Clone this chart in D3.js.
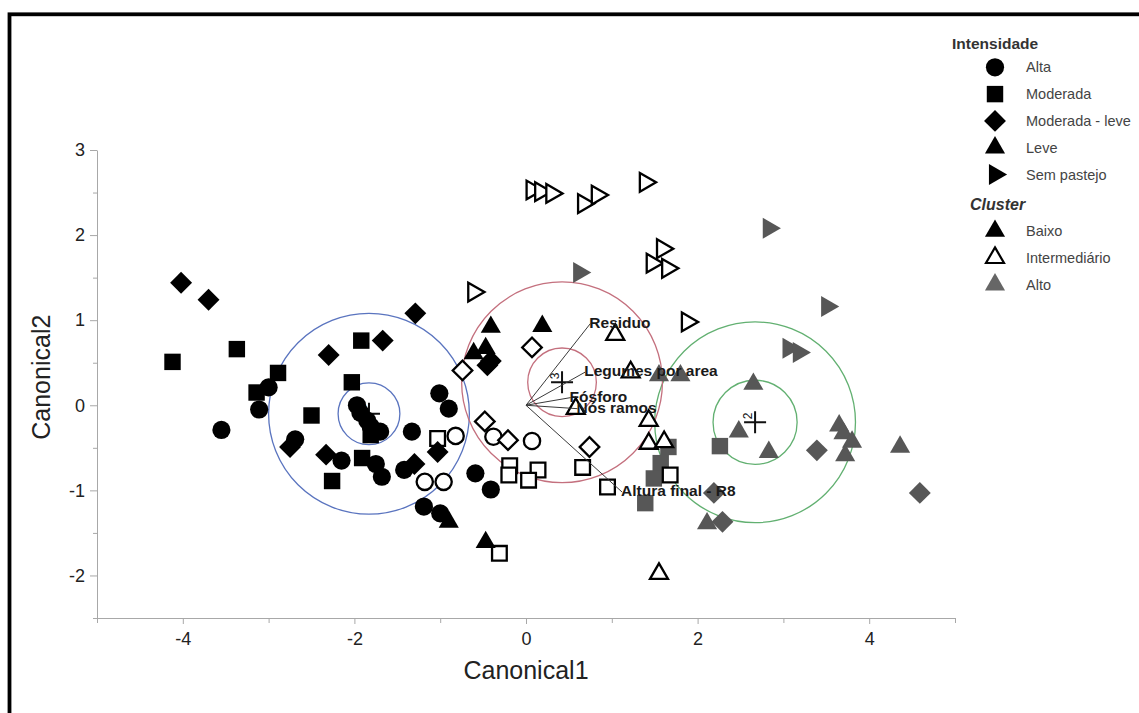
<!DOCTYPE html>
<html>
<head>
<meta charset="utf-8">
<script src="https://cdn.jsdelivr.net/npm/d3@7"></script>
<style>
  body { margin: 0; background: #fff; }
  svg { display: block; font-family: "Liberation Sans", Arial, sans-serif; }
</style>
</head>
<body>
<div id="chart"></div>
<script>
// Intensidade codes: A = Alta, M = Moderada, ML = Moderada - leve, L = Leve, S = Sem pastejo
const baixo = [
  [-3.55,-0.29,"A"],[-3.11,-0.05,"A"],[-3.00,0.21,"A"],[-2.69,-0.40,"A"],[-1.97,0.00,"A"],
  [-1.93,-0.09,"A"],[-1.85,-0.18,"A"],[-1.81,-0.25,"A"],[-1.70,-0.31,"A"],[-2.15,-0.65,"A"],
  [-1.75,-0.69,"A"],[-1.68,-0.84,"A"],[-1.42,-0.76,"A"],[-1.33,-0.31,"A"],[-1.01,0.14,"A"],
  [-0.90,-0.04,"A"],[-1.19,-1.19,"A"],[-1.00,-1.27,"A"],[-0.59,-0.80,"A"],[-0.41,-0.99,"A"],
  [-4.12,0.51,"M"],[-3.37,0.66,"M"],[-2.89,0.38,"M"],[-3.14,0.15,"M"],[-2.50,-0.12,"M"],
  [-1.92,0.76,"M"],[-2.03,0.27,"M"],[-1.81,-0.35,"M"],[-1.91,-0.62,"M"],[-2.26,-0.89,"M"],
  [-4.02,1.44,"ML"],[-3.70,1.24,"ML"],[-1.29,1.08,"ML"],[-1.67,0.76,"ML"],[-2.30,0.59,"ML"],
  [-2.75,-0.49,"ML"],[-2.33,-0.58,"ML"],[-1.03,-0.55,"ML"],[-1.30,-0.69,"ML"],[-0.45,0.47,"ML"],
  [-0.41,0.52,"ML"],
  [-0.41,0.92,"L"],[0.19,0.93,"L"],[-0.61,0.61,"L"],[-0.47,0.67,"L"],[-0.90,-1.37,"L"],[-0.47,-1.61,"L"]
];

const intermediario = [
  [-0.82,-0.36,"A"],[-1.18,-0.90,"A"],[-0.96,-0.90,"A"],[-0.38,-0.37,"A"],[0.07,-0.42,"A"],
  [-1.03,-0.39,"M"],[-0.19,-0.71,"M"],[-0.20,-0.82,"M"],[0.14,-0.76,"M"],[0.03,-0.88,"M"],
  [0.66,-0.73,"M"],[0.95,-0.96,"M"],[-0.31,-1.74,"M"],[1.68,-0.82,"M"],
  [-0.74,0.41,"ML"],[0.07,0.68,"ML"],[-0.48,-0.19,"ML"],[-0.21,-0.41,"ML"],[0.74,-0.49,"ML"],
  [1.04,0.83,"L"],[1.22,0.39,"L"],[0.58,-0.04,"L"],[1.43,-0.18,"L"],[1.43,-0.45,"L"],
  [1.61,-0.43,"L"],[1.55,-1.98,"L"],
  [-0.61,1.33,"S"],[0.07,2.53,"S"],[0.17,2.51,"S"],[0.30,2.49,"S"],[0.67,2.37,"S"],
  [0.83,2.47,"S"],[1.39,2.62,"S"],[1.59,1.84,"S"],[1.47,1.67,"S"],[1.65,1.61,"S"],[1.88,0.98,"S"]
];

const alto = [
  [1.66,-0.49,"M"],[1.57,-0.68,"M"],[1.49,-0.86,"M"],[1.39,-1.15,"M"],[2.26,-0.48,"M"],
  [3.39,-0.53,"ML"],[4.59,-1.03,"ML"],[2.19,-1.03,"ML"],[2.29,-1.37,"ML"],
  [1.55,0.35,"L"],[1.80,0.35,"L"],[2.65,0.25,"L"],[2.48,-0.31,"L"],[2.83,-0.55,"L"],
  [3.65,-0.24,"L"],[3.70,-0.33,"L"],[3.80,-0.43,"L"],[3.72,-0.59,"L"],[4.36,-0.49,"L"],
  [2.11,-1.39,"L"],
  [2.83,2.08,"S"],[0.62,1.56,"S"],[3.51,1.16,"S"],[3.06,0.67,"S"],[3.18,0.62,"S"]
];

// cluster means and their circles (data units)
const clusterIds = ["1", "2", "3"];
const clusterX = [-1.83, 2.67, 0.42];
const clusterY = [-0.10, -0.20, 0.27];
const innerR = [0.36, 0.49, 0.40];
const outerR = [1.17, 1.17, 1.17];

// biplot rays
const rayLabels = ["Residuo", "Legumes por area", "Fósforo", "Nós ramos", "Altura final - R8"];
const rayX = [0.75, 0.69, 0.52, 0.60, 1.12];
const rayY = [0.96, 0.39, 0.09, -0.04, -1.02];

const xTicks = [-4, -2, 0, 2, 4];
const xMinor = [-5, -3, -1, 1, 3, 5];
const yTicks = [-2, -1, 0, 1, 2, 3];
const yMinor = [-2.5, -1.5, -0.5, 0.5, 1.5, 2.5];

const intensidadeKeys = ["A", "M", "ML", "L", "S"];
const intensidadeLabels = ["Alta", "Moderada", "Moderada - leve", "Leve", "Sem pastejo"];
const clusterLabels = ["Baixo", "Intermediário", "Alto"];

const W = 1139, H = 713;
const circleColors = ["#5a74bf", "#62b071", "#c4707e"];
const grayFill = "#575757";
const axisColor = "#a8a8a8";

const svg = d3.select("#chart").append("svg")
    .attr("width", W)
    .attr("height", H);

// outer frame (only the top and left edges fall inside the picture)
svg.append("rect")
    .attr("x", 9.5).attr("y", 14.3)
    .attr("width", 1300).attr("height", 900)
    .attr("fill", "none")
    .attr("stroke", "#000")
    .attr("stroke-width", 3.8);

const x = d3.scaleLinear().domain([-5, 5]).range([97, 955]);
const y = d3.scaleLinear().domain([-2.5, 3]).range([618, 150]);

// axes
const gx = svg.append("g").attr("transform", `translate(0,${y(-2.5)})`);
gx.call(d3.axisBottom(x).tickValues(xMinor).tickFormat("").tickSize(5).tickSizeOuter(0));
gx.append("g").call(d3.axisBottom(x).tickValues(xTicks).tickFormat(d => String(d))
    .tickSize(6).tickPadding(8)).call(g => g.select(".domain").remove());

const gy = svg.append("g").attr("transform", `translate(${x(-5)},0)`);
gy.call(d3.axisLeft(y).tickValues(yMinor).tickFormat("").tickSize(4).tickSizeOuter(0));
gy.append("g").call(d3.axisLeft(y).tickValues(yTicks).tickFormat(d => String(d))
    .tickSize(7).tickPadding(5)).call(g => g.select(".domain").remove());

svg.selectAll(".domain, .tick line").attr("stroke", axisColor);
svg.selectAll(".tick text")
    .attr("fill", "#222")
    .style("font-size", "18px")
    .style("font-family", "'Liberation Sans', Arial, sans-serif");

svg.append("text")
    .attr("x", x(0)).attr("y", 679)
    .attr("text-anchor", "middle")
    .attr("fill", "#222")
    .style("font-size", "25px")
    .text("Canonical1");

svg.append("text")
    .attr("transform", `translate(50,${y(0.33)}) rotate(-90)`)
    .attr("text-anchor", "middle")
    .attr("fill", "#222")
    .style("font-size", "25px")
    .text("Canonical2");

// cluster circles
const px = d => x(d) - x(0); // data length -> pixels
const clusters = svg.append("g");
clusterIds.forEach((id, i) => {
  [innerR[i], outerR[i]].forEach(r => {
    clusters.append("circle")
        .attr("cx", x(clusterX[i])).attr("cy", y(clusterY[i]))
        .attr("r", px(r))
        .attr("fill", "none")
        .attr("stroke", circleColors[i])
        .attr("stroke-width", 1.3);
  });
  const cx = x(clusterX[i]), cy = y(clusterY[i]);
  clusters.append("path")
      .attr("d", `M${cx - 11},${cy}H${cx + 11}M${cx},${cy - 11}V${cy + 11}`)
      .attr("stroke", "#111")
      .attr("stroke-width", 2);
  clusters.append("text")
      .attr("transform", `translate(${cx - 3},${cy - 3}) rotate(-90)`)
      .attr("fill", "#111")
      .style("font-size", "12px")
      .text(id);
});

// points
const shapeOf = { A: d3.symbolCircle, M: d3.symbolSquare, ML: d3.symbolSquare, L: d3.symbolTriangle, S: d3.symbolTriangle };
const sizeOf = { A: 260, M: 270, ML: 240, L: 175, S: 190 };
const rotOf = { A: 0, M: 0, ML: 45, L: 0, S: 90 };
const sym = (k, scale) => d3.symbol().type(shapeOf[k]).size(sizeOf[k] * scale)();

function drawPoints(data, fill, stroke) {
  svg.append("g")
    .selectAll("path")
    .data(data)
    .join("path")
      .attr("d", d => sym(d[2], stroke ? 0.8 : 1))
      .attr("transform", d => `translate(${x(d[0])},${y(d[1])}) rotate(${rotOf[d[2]]})`)
      .attr("fill", fill)
      .attr("stroke", stroke || "none")
      .attr("stroke-width", stroke ? 2.3 : 0);
}
drawPoints(alto, grayFill);
drawPoints(intermediario, "#fff", "#000");
drawPoints(baixo, "#000");

// rays and their labels
const rays = svg.append("g");
rayLabels.forEach((lab, i) => {
  rays.append("line")
      .attr("x1", x(0)).attr("y1", y(0))
      .attr("x2", x(rayX[i])).attr("y2", y(rayY[i]))
      .attr("stroke", "#3a3a3a")
      .attr("stroke-width", 1);
  rays.append("text")
      .attr("x", x(rayX[i]) - 1).attr("y", y(rayY[i]) + 4)
      .attr("fill", "#1a1a1a")
      .style("font-size", "15.5px")
      .style("font-weight", "bold")
      .text(lab);
});

// legend
const legend = svg.append("g");
const legMarkX = 995, legTextX = 1026, step = 26.8;
legend.append("text")
    .attr("x", 952).attr("y", 49)
    .attr("fill", "#333")
    .style("font-size", "15.5px").style("font-weight", "bold")
    .text("Intensidade");
intensidadeKeys.forEach((k, i) => {
  const cy = 67.3 + i * step;
  legend.append("path")
      .attr("d", sym(k, 1))
      .attr("transform", `translate(${legMarkX},${cy}) rotate(${rotOf[k]})`)
      .attr("fill", "#000");
  legend.append("text")
      .attr("x", legTextX).attr("y", cy + 5)
      .attr("fill", "#444")
      .style("font-size", "14.5px")
      .text(intensidadeLabels[i]);
});
legend.append("text")
    .attr("x", 970).attr("y", 210)
    .attr("fill", "#333")
    .style("font-size", "16px").style("font-weight", "bold").style("font-style", "italic")
    .text("Cluster");
const clusterFill = ["#000", "#fff", "#666"];
clusterLabels.forEach((lab, i) => {
  const cy = 231 + i * step;
  legend.append("path")
      .attr("d", sym("L", i === 1 ? 0.8 : 1))
      .attr("transform", `translate(${legMarkX},${cy})`)
      .attr("fill", clusterFill[i])
      .attr("stroke", i === 1 ? "#000" : "none")
      .attr("stroke-width", 2.2);
  legend.append("text")
      .attr("x", legTextX).attr("y", cy + 5)
      .attr("fill", "#444")
      .style("font-size", "14.5px")
      .text(lab);
});
</script>
</body>
</html>
